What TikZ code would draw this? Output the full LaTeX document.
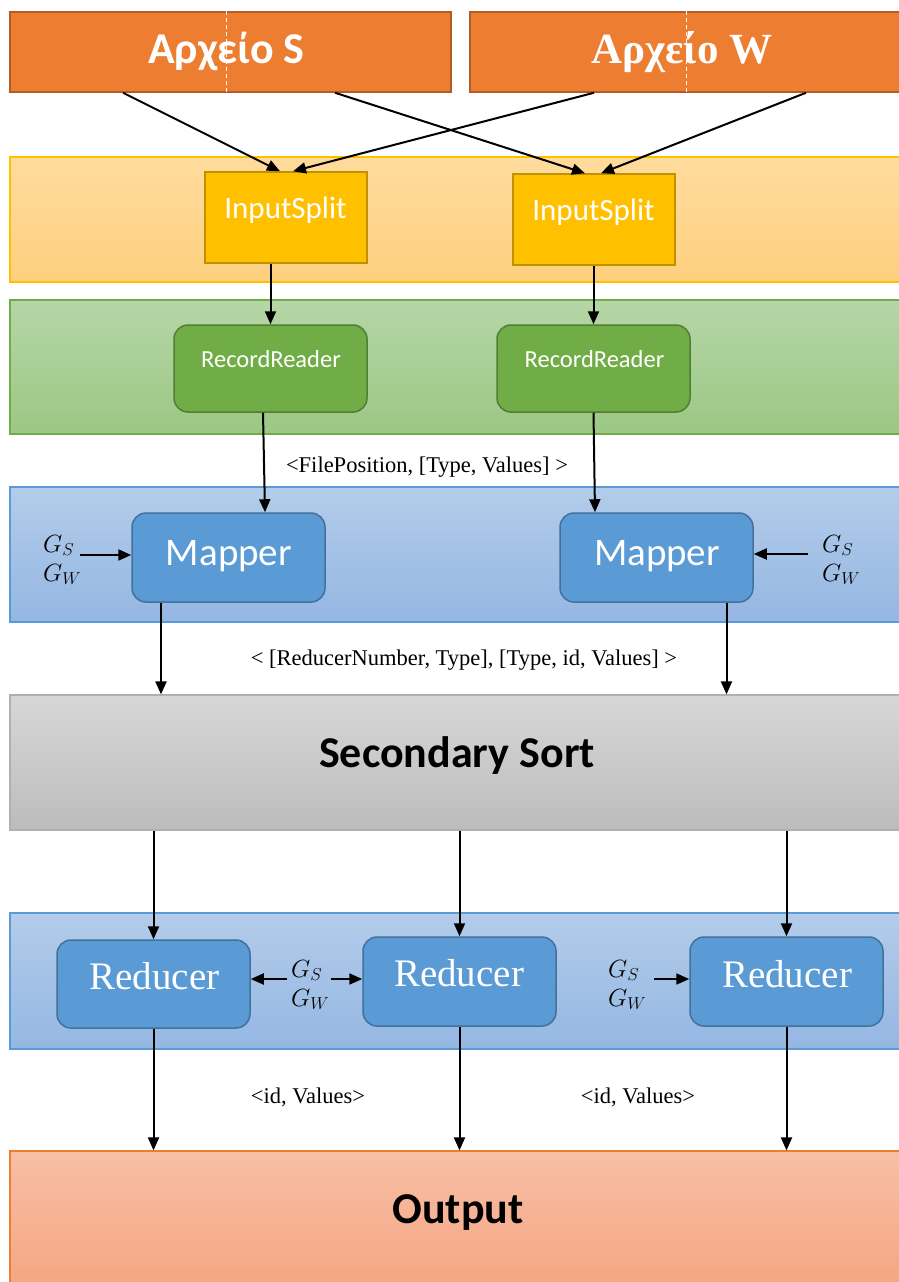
\documentclass[tikz,border=0pt]{standalone}
\usepackage{fontspec}
\setmainfont{Liberation Serif}
\newfontfamily\calibrifont{Carlito}
\usetikzlibrary{arrows.meta,calc}

\definecolor{fileFill}{HTML}{ED7D31}
\definecolor{fileEdge}{HTML}{B45D22}
\definecolor{yelTop}{HTML}{FFDB9C}
\definecolor{yelBot}{HTML}{FDD07E}
\definecolor{yelEdge}{HTML}{FFC000}
\definecolor{splitFill}{HTML}{FFC000}
\definecolor{splitEdge}{HTML}{C09100}
\definecolor{grnTop}{HTML}{B5D6A7}
\definecolor{grnBot}{HTML}{9CC784}
\definecolor{grnEdge}{HTML}{70AD47}
\definecolor{rrFill}{HTML}{70AD47}
\definecolor{rrEdge}{HTML}{507E32}
\definecolor{bluTop}{HTML}{B3CCEA}
\definecolor{bluBot}{HTML}{94B7E2}
\definecolor{bluEdge}{HTML}{5B9BD5}
\definecolor{procFill}{HTML}{5B9BD5}
\definecolor{procEdge}{HTML}{41719C}
\definecolor{gryTop}{HTML}{D7D7D7}
\definecolor{gryBot}{HTML}{BCBCBC}
\definecolor{gryEdge}{HTML}{B0B0B0}
\definecolor{outTop}{HTML}{F8BFA6}
\definecolor{outBot}{HTML}{F4A682}
\definecolor{outEdge}{HTML}{ED7D31}

\begin{document}
\begin{tikzpicture}[x=1pt,y=-1pt,
  band/.style={rectangle, draw, line width=1.2pt, inner sep=0pt,
               minimum width=895pt},
  filebox/.style={rectangle, draw=fileEdge, fill=fileFill, line width=1.5pt,
                  inner sep=0pt, minimum height=80pt},
  splitbox/.style={rectangle, draw=splitEdge, fill=splitFill, line width=1.5pt,
                   inner sep=0pt, minimum width=162pt, minimum height=91pt},
  rrbox/.style={rectangle, rounded corners=14pt, draw=rrEdge, fill=rrFill,
                line width=1.5pt, inner sep=0pt, minimum width=193pt,
                minimum height=87pt},
  procbox/.style={rectangle, rounded corners=14pt, draw=procEdge, fill=procFill,
                  line width=1.5pt, inner sep=0pt, minimum width=193pt,
                  minimum height=88pt},
  wtxt/.style={inner sep=0pt, anchor=base, text=white},
  btxt/.style={inner sep=0pt, anchor=base, text=black},
  lbl/.style={inner sep=0pt, anchor=base, text=black,
              font=\fontsize{22.5pt}{26pt}\selectfont},
  glab/.style={inner sep=0pt, anchor=west, align=left,
               font=\fontsize{24pt}{29pt}\selectfont},
  arr/.style={line width=2pt, -{Triangle[length=13pt,width=11pt]}}
]
\useasboundingbox (0,0) rectangle (899,1282);

% ---- input files ----
\node[filebox, minimum width=441pt] (fs) at (230.5,52) {};
\node[filebox, minimum width=435pt] (fw) at (687.5,52) {};
\draw[white, line width=0.8pt, dash pattern=on 4pt off 3pt]
  (fs.north -| 226,0) -- (fs.south -| 226,0);
\draw[white, line width=0.8pt, dash pattern=on 4pt off 3pt]
  (fw.north -| 686,0) -- (fw.south -| 686,0);
\node[wtxt, font=\calibrifont\bfseries\fontsize{44pt}{50pt}\selectfont]
  (fst) at (226.5,63) {Αρχείο S};
\node[wtxt, font=\bfseries\fontsize{43pt}{50pt}\selectfont]
  (fwt) at (682,63) {Αρχείο W};

% ---- layer bands ----
\node[band, draw=yelEdge, top color=yelTop, bottom color=yelBot,
      minimum height=125pt] (yb) at (457.5,219.5) {};
\node[band, draw=grnEdge, top color=grnTop, bottom color=grnBot,
      minimum height=134pt] (gb) at (457.5,367) {};
\node[band, draw=bluEdge, top color=bluTop, bottom color=bluBot,
      minimum height=135pt] (mb) at (457.5,554.5) {};
\node[band, draw=gryEdge, top color=gryTop, bottom color=gryBot,
      minimum height=135pt] (ss) at (457.5,762.5) {};
\node[band, draw=bluEdge, top color=bluTop, bottom color=bluBot,
      minimum height=136pt] (rb) at (457.5,981) {};
\node[band, draw=outEdge, top color=outTop, bottom color=outBot,
      minimum height=134pt] (out) at (457.5,1218) {};

\node[btxt, font=\calibrifont\bfseries\fontsize{44pt}{50pt}\selectfont]
  (sst) at (457,767) {Secondary Sort};
\node[btxt, font=\calibrifont\bfseries\fontsize{44pt}{50pt}\selectfont]
  (outt) at (458,1223) {Output};

% ---- input splits ----
\node[splitbox] (is1) at (286,217.5) {};
\node[splitbox] (is2) at (594,219.5) {};
\node[wtxt, font=\calibrifont\fontsize{31pt}{34pt}\selectfont]
  (is1t) at (285.5,218) {InputSplit};
\node[wtxt, font=\calibrifont\fontsize{31pt}{34pt}\selectfont]
  (is2t) at (593.5,220) {InputSplit};

% ---- record readers ----
\node[rrbox] (rr1) at (270.5,368.5) {};
\node[rrbox] (rr2) at (593.5,368.5) {};
\node[wtxt, font=\calibrifont\fontsize{24.5pt}{28pt}\selectfont]
  (rr1t) at (271,367) {RecordReader};
\node[wtxt, font=\calibrifont\fontsize{24.5pt}{28pt}\selectfont]
  (rr2t) at (594.5,367) {RecordReader};

% ---- mappers ----
\node[procbox, minimum height=89pt] (m1) at (228.5,557.5) {};
\node[procbox, minimum height=89pt] (m2) at (656.5,557.5) {};
\node[wtxt, font=\calibrifont\fontsize{39pt}{44pt}\selectfont]
  (m1t) at (229,565) {Mapper};
\node[wtxt, font=\calibrifont\fontsize{39pt}{44pt}\selectfont]
  (m2t) at (657,565) {Mapper};
\node[glab] (gm1) at (43,560) {$G_S$\\$G_W$};
\node[glab] (gm2) at (822,560) {$G_S$\\$G_W$};

% ---- reducers ----
\node[procbox] (r1) at (153.5,984) {};
\node[procbox, minimum height=89pt] (r2) at (459.5,981.5) {};
\node[procbox, minimum height=89pt] (r3) at (786.5,981.5) {};
\node[wtxt, font=\fontsize{39pt}{44pt}\selectfont] (r1t) at (154.5,989) {Reducer};
\node[wtxt, font=\fontsize{39pt}{44pt}\selectfont] (r2t) at (459,986) {Reducer};
\node[wtxt, font=\fontsize{39pt}{44pt}\selectfont] (r3t) at (787,987) {Reducer};
\node[glab] (gr2) at (291,985) {$G_S$\\$G_W$};
\node[glab] (gr3) at (608,985) {$G_S$\\$G_W$};

% ---- key/value labels ----
\node[lbl] (kv1) at (427,472) {<FilePosition, [Type, Values] >};
\node[lbl] (kv2) at (464,665) {< [ReducerNumber, Type], [Type, id, Values] >};
\node[lbl] (kv3) at (308,1103) {<id, Values>};
\node[lbl] (kv4) at (638,1103) {<id, Values>};

% ---- files to splits ----
\draw[arr] ($(fs.south)+(-107.5,0)$) -- ($(is1.north)+(-6,0)$);
\draw[arr] ($(fw.south)+(-93.5,0)$) -- ($(is1.north)+(7,0)$);
\draw[arr] ($(fs.south)+(104.5,0)$) -- ($(is2.north)+(-9,0)$);
\draw[arr] ($(fw.south)+(118.5,0)$) -- ($(is2.north)+(7,0)$);

% ---- splits to record readers ----
\draw[arr] (is1.south -| rr1.north) -- (rr1.north);
\draw[arr] (is2.south -| rr2.north) -- (rr2.north);

% ---- record readers to mappers ----
\draw[arr] ($(rr1.south)+(-7.5,0)$) -- ($(m1.north)+(36.5,0)$);
\draw[arr] (rr2.south) -- ($(m2.north)+(-61.5,0)$);

% ---- global data into mappers ----
\draw[arr] ($(gm1.east |- 0,555)+(-1,0)$) -- (m1.west |- 0,555);
\draw[arr] ($(gm2.west |- 0,554)+(-14,0)$) -- (m2.east |- 0,554);

% ---- mappers to secondary sort ----
\draw[arr] ($(m1.south)+(-67.5,0)$) coordinate (m1o) -- (m1o |- ss.north);
\draw[arr] ($(m2.south)+(70,0)$) coordinate (m2o) -- (m2o |- ss.north);

% ---- secondary sort to reducers ----
\draw[arr] (ss.south -| r1.north) -- (r1.north);
\draw[arr] (ss.south -| r2.north) -- (r2.north);
\draw[arr] (ss.south -| r3.north) -- (r3.north);

% ---- global data into reducers ----
\draw[arr] ($(gr2.west |- 0,979)+(-4,0)$) -- (r1.east |- 0,979);
\draw[arr] ($(gr2.east |- 0,979)+(2,0)$) -- (r2.west |- 0,979);
\draw[arr] ($(gr3.east |- 0,979)+(8,0)$) -- (r3.west |- 0,979);

% ---- reducers to output ----
\draw[arr] (r1.south) -- (r1.south |- out.north);
\draw[arr] (r2.south) -- (r2.south |- out.north);
\draw[arr] (r3.south) -- (r3.south |- out.north);
\end{tikzpicture}
\end{document}
